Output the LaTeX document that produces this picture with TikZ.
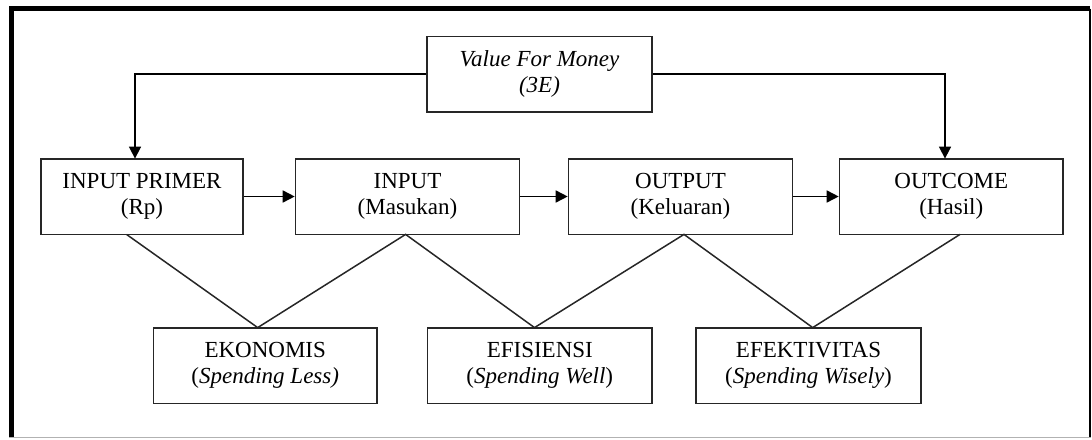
\documentclass[tikz,border=0pt]{standalone}
\usepackage{fontspec}
\setmainfont{Liberation Serif}
\usetikzlibrary{arrows.meta}
\begin{document}
\begin{tikzpicture}[x=0.5pt,y=-0.5pt,
  box/.style={draw=black!85, line width=0.8pt, inner sep=0pt, align=center,
    font=\fontsize{11.5}{13}\selectfont, minimum height=37.8pt},
  arr/.style={line width=0.8pt, -{Triangle[length=6pt,width=6pt]}},
  link/.style={line width=0.75pt, draw=black!85}]
\useasboundingbox (0,0) rectangle (1092,439);
% frame
\draw[line width=2.4pt] (11.5,437) -- (11.5,8.5) -- (1090,8.5);
\draw[line width=1pt] (1090,8.5) -- (1090,437.5);
\draw[line width=0.7pt, black!30] (9,437.5) -- (1091,437.5);
% nodes
\node[box, minimum width=112.5pt] (val) at (539.5,74.25) {\itshape Value For Money\\\itshape (3E)};
\node[box, minimum width=101pt] (ip) at (142,196.5) {INPUT PRIMER\\(Rp)};
\node[box, minimum width=112pt] (in) at (407.5,196.5) {INPUT\\(Masukan)};
\node[box, minimum width=112pt] (out) at (680.5,196.5) {OUTPUT\\(Keluaran)};
\node[box, minimum width=111.75pt] (oc) at (951.25,196.5) {OUTCOME\\(Hasil)};
\node[box, minimum width=111.75pt] (ek) at (265.25,365.5) {EKONOMIS\\(\textit{Spending Less)}};
\node[box, minimum width=112.2pt] (ef) at (539.8,365.5) {EFISIENSI\\(\textit{Spending Well})};
\node[box, minimum width=112.5pt] (efk) at (808.5,365.5) {EFEKTIVITAS\\(\textit{Spending Wisely})};
% connector points
\coordinate (ipin) at (135,158.6);
\coordinate (ocin) at (945,158.6);
\coordinate (ipb) at (126.5,234.4);
\coordinate (inb) at (405.6,234.4);
\coordinate (outb) at (684,234.4);
\coordinate (ocb) at (960,234.4);
\coordinate (ekt) at (257.7,327.6);
\coordinate (eft) at (534.5,327.6);
\coordinate (efkt) at (812.7,327.6);
% arrows
\draw[arr] (val.west) -| (ipin);
\draw[arr] (val.east) -| (ocin);
\draw[arr] (ip.east) -- (in.west);
\draw[arr] (in.east) -- (out.west);
\draw[arr] (out.east) -- (oc.west);
% links
\draw[link] (ipb) -- (ekt) -- (inb) -- (eft) -- (outb) -- (efkt) -- (ocb);
\end{tikzpicture}
\end{document}
